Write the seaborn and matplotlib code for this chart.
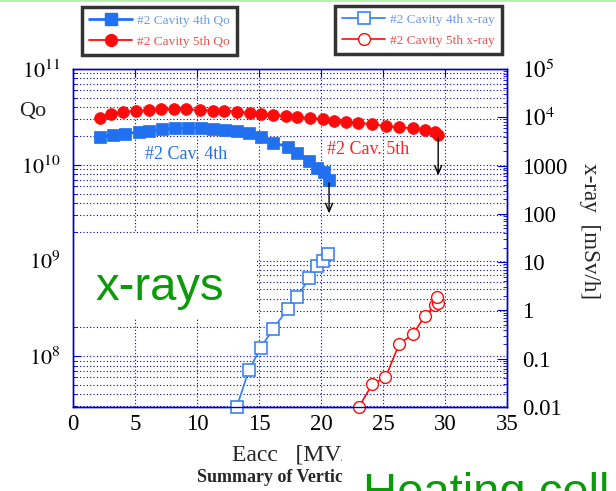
import numpy as np
import pandas as pd
import matplotlib
matplotlib.use('Agg')
import matplotlib.pyplot as plt
import seaborn as sns
from matplotlib.patches import Rectangle
from matplotlib.lines import Line2D
from matplotlib.ticker import NullFormatter

sns.set_style('white')
plt.rcParams['font.family'] = ['Liberation Serif', 'DejaVu Serif']
plt.rcParams['mathtext.fontset'] = 'stix'

# Qo data (left axis)
q4_eacc = [2.2, 3.25, 4.2, 5.3, 6.15, 7.2, 8.2, 9.25, 10.3, 11.25, 12.25, 13.2, 14.2,
           15.15, 16.15, 17.3, 18.1, 19.0, 19.7, 20.25, 20.65]
q4_qo = [1.96e10, 2.04e10, 2.09e10, 2.21e10, 2.26e10, 2.34e10, 2.40e10, 2.40e10, 2.44e10,
         2.38e10, 2.29e10, 2.26e10, 2.14e10, 1.93e10, 1.70e10, 1.54e10, 1.33e10, 1.10e10,
         9.2e9, 8.5e9, 6.9e9]
q5_eacc = [2.2, 3.1, 4.05, 5.1, 6.1, 7.1, 8.15, 9.15, 10.25, 11.3, 12.2, 13.2, 14.25, 15.15,
           16.15, 17.15, 18.1, 19.1, 20.2, 21.05, 22.05, 23.0, 24.1, 25.25, 26.3, 27.45,
           28.4, 29.2, 29.45]
q5_qo = [3.10e10, 3.37e10, 3.58e10, 3.66e10, 3.73e10, 3.79e10, 3.82e10, 3.79e10, 3.73e10,
         3.66e10, 3.66e10, 3.58e10, 3.49e10, 3.39e10, 3.31e10, 3.23e10, 3.18e10, 3.05e10,
         2.98e10, 2.86e10, 2.81e10, 2.75e10, 2.64e10, 2.54e10, 2.46e10, 2.40e10, 2.31e10,
         2.21e10, 2.04e10]

# x-ray data (right axis)
x4_eacc = [13.2, 14.2, 15.15, 16.15, 17.3, 18.1, 19.0, 19.7, 20.2, 20.6]
x4_dose = [0.01, 0.059, 0.17, 0.42, 1.06, 1.88, 4.6, 8.3, 10.7, 14.6]
x5_eacc = [23.05, 24.15, 25.2, 26.3, 27.45, 28.4, 29.2, 29.4, 29.35]
x5_dose = [0.01, 0.030, 0.041, 0.20, 0.33, 0.78, 1.30, 1.41, 1.93]

# quench arrows: (eacc, start Qo, end Qo)
arrows = [(20.65, 6.9e9, 2.9e9), (29.45, 2.04e10, 7.2e9)]

q_ticks = [1e8, 1e9, 1e10, 1e11]
q_labels = ['$10^{8}$', '$10^{9}$', '$10^{10}$', '$10^{11}$']
x_ticks = [0.01, 0.1, 1, 10, 100, 1000, 1e4, 1e5]
x_labels = ['0.01', '0.1', '1', '10', '100', '1000', '$10^{4}$', '$10^{5}$']

blue = '#2070f0'
blue_open = '#3a84f2'
red = '#ff0a0a'
frame = '#0000cc'

fig = plt.figure(figsize=(6.16, 4.91), dpi=100)
ax = fig.add_axes([73/616, 1-407/491, 434/616, 338/491])
ax2 = ax.twinx()

sns.lineplot(x=q4_eacc, y=q4_qo, ax=ax, color=blue, lw=2, marker='s', markersize=8,
             markeredgecolor=blue, mew=0.5, sort=False, estimator=None, zorder=3)
sns.lineplot(x=q5_eacc, y=q5_qo, ax=ax, color=red, lw=1.3, marker='o', markersize=8.5,
             markeredgecolor=red, mew=0.5, sort=False, estimator=None, zorder=3)
sns.lineplot(x=x4_eacc, y=x4_dose, ax=ax2, color=blue_open, lw=1.3, marker='s', markersize=8,
             markeredgecolor=blue_open, markerfacecolor='white', mew=1.2, sort=False,
             estimator=None, clip_on=False)
sns.lineplot(x=x5_eacc, y=x5_dose, ax=ax2, color=red, lw=1.2, marker='o', markersize=8.5,
             markeredgecolor=red, markerfacecolor='white', mew=1.0, sort=False,
             estimator=None, clip_on=False)

for xa, y0, y1 in arrows:
    ax.annotate('', xy=(xa, y1), xytext=(xa, y0),
                arrowprops=dict(arrowstyle='->,head_length=0.6,head_width=0.25',
                                color='black', lw=1.0), zorder=4)

ax.set_xlim(0, 35)
ax.set_yscale('log')
ax.set_ylim(10**7.47, 1e11)
ax2.set_yscale('log')
ax2.set_ylim(0.01, 1e5)

ax.set_xticks([0, 5, 10, 15, 20, 25, 30, 35])
ax.set_yticks(q_ticks)
ax.set_yticklabels(q_labels)
ax.yaxis.set_minor_formatter(NullFormatter())
ax2.set_yticks(x_ticks)
ax2.set_yticklabels(x_labels)
ax2.yaxis.set_minor_formatter(NullFormatter())

ax.tick_params(axis='both', which='both', direction='in', colors=frame, labelcolor='black',
               top=True)
ax.tick_params(axis='y', which='major', length=6, pad=9, labelsize=16)
ax.tick_params(axis='y', which='minor', length=3)
ax.tick_params(axis='x', which='major', length=6, pad=5, labelsize=16.5)
ax2.tick_params(axis='y', which='both', direction='in', colors=frame, labelcolor='black',
                labelsize=16.5, pad=11)
ax2.tick_params(axis='y', which='major', length=7)
ax2.tick_params(axis='y', which='minor', length=3)

for a in (ax, ax2):
    for s in a.spines.values():
        s.set_color(frame)
        s.set_linewidth(1.0)

ax.set_axisbelow(True)
ax.grid(axis='y', which='both', ls=(0, (1, 2)), color=frame, lw=0.8)
ax.grid(axis='x', which='major', ls=(0, (1, 2)), color=frame, lw=0.8)

ax.set_xlabel('Eacc   [MV/m]', fontsize=17)
ax.xaxis.set_label_coords(0.53, -0.112)
ax.set_ylabel('Qo', rotation=0, fontsize=16, ha='center', va='center')
ax.yaxis.set_label_coords(-0.094, 0.873)
ax2.set_ylabel('x-ray  [mSv/h]', rotation=270, fontsize=16.7, va='center')
ax2.yaxis.set_label_coords(1.191, 0.52)

ax.text(5.8, 1.57e10, '#2 Cav. 4th', color=blue, fontsize=13, va='top')
ax.text(20.5, 1.75e10, '#2 Cav. 5th', color='#ff2020', fontsize=13, va='top')

# white box with x-rays caption
ax.add_patch(Rectangle((0, 0.263), 0.424, 0.251, transform=ax.transAxes,
                       facecolor='white', edgecolor='none', zorder=1))
ax.text(0.051, 0.318, 'x-rays', transform=ax.transAxes, color='#0a9a0a', fontsize=34,
        family='Liberation Sans', va='baseline', zorder=5)

handles1 = [Line2D([], [], color=blue, lw=2, marker='s', markersize=8, mec=blue),
            Line2D([], [], color=red, lw=1.3, marker='o', markersize=8.5, mec=red)]
labels1 = ['#2 Cavity 4th Qo', '#2 Cavity 5th Qo']
handles2 = [Line2D([], [], color=blue_open, lw=1.3, marker='s', markersize=8, mec=blue_open,
                   mfc='white', mew=1.2),
            Line2D([], [], color=red, lw=1.2, marker='o', markersize=8.5, mec=red,
                   mfc='white', mew=1.0)]
labels2 = ['#2 Cavity 4th x-ray', '#2 Cavity 5th x-ray']

for hs, ls, anchor, cols in [(handles1, labels1, (82/616, 1-7/491), ['#6a98f0', '#f05050']),
                             (handles2, labels2, (335/616, 1-6/491), ['#6a98f0', '#f05050'])]:
    leg = fig.legend(hs, ls, loc='upper left', bbox_to_anchor=anchor, fontsize=9.6,
                     frameon=True, fancybox=False, handlelength=3.2, handletextpad=0.35,
                     labelspacing=0.65, borderpad=0.55, borderaxespad=0)
    leg.get_frame().set_edgecolor('black')
    leg.get_frame().set_linewidth(2.5)
    for t, c in zip(leg.get_texts(), cols):
        t.set_color(c)

fig.text(197/616, 1-478/491, 'Summary of Vertical Test', fontsize=13, fontweight='bold',
         va='center', zorder=3)
fig.add_artist(Rectangle((342/616, 0), 1-342/616, 50/491, transform=fig.transFigure,
                         facecolor='white', edgecolor='none', zorder=5))
fig.text(363/616, 1-506/491, 'Heating cell', color='#0a9a0a', fontsize=34,
         family='Liberation Sans', va='baseline', zorder=6)
fig.add_artist(Line2D([0, 1], [0.999, 0.999], transform=fig.transFigure,
                      color='#b4f0a8', lw=2))

fig.savefig('out.png', dpi=100)
